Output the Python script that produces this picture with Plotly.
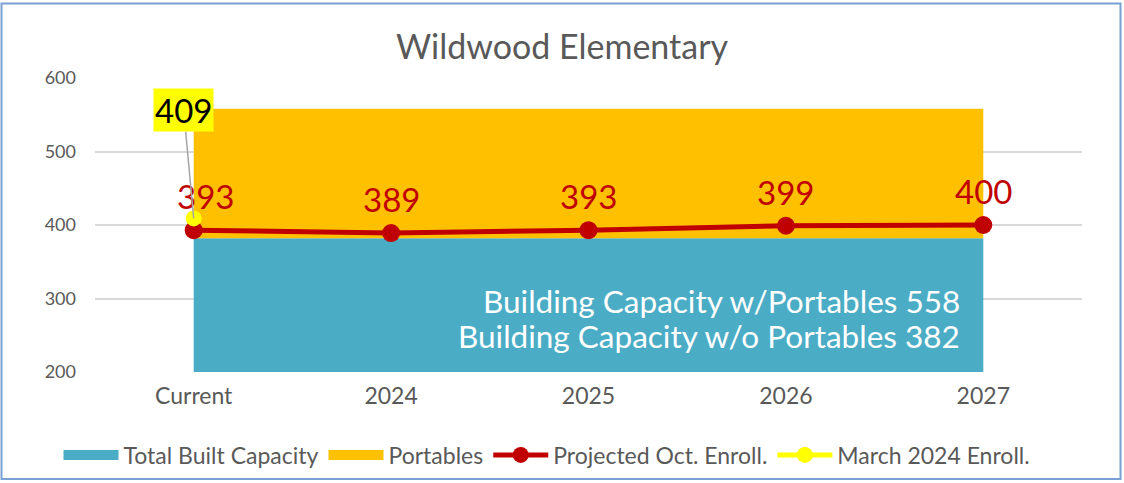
import plotly.graph_objects as go

categories = ["Current", "2024", "2025", "2026", "2027"]
built_capacity = [382, 382, 382, 382, 382]
portables = [176, 176, 176, 176, 176]
projected = [393, 389, 393, 399, 400]
march_enroll = [409]
y_ticks = [200, 300, 400, 500, 600]
capacity_notes = ["Building Capacity w/Portables 558", "Building Capacity w/o Portables 382"]

W, H = 1124, 483
L, R, T, B = 95, 42, 78, 111
pw, ph = W - L - R, H - T - B
xs = list(range(len(categories)))

FONT = "Lato"
GREY = "#595959"
BLUE, ORANGE = "#4BACC6", "#FFC000"

def px_x(p):
    return (p - L) / pw

def px_y(p):
    return (T + ph - p) / ph

fig = go.Figure()
fig.add_trace(go.Scatter(x=xs, y=built_capacity, stackgroup="cap", mode="none",
                         fillcolor=BLUE, name="Total Built Capacity", showlegend=False))
fig.add_trace(go.Scatter(x=xs, y=portables, stackgroup="cap", mode="none",
                         fillcolor=ORANGE, name="Portables", showlegend=False))
# legend entries for the areas
fig.add_trace(go.Scatter(x=[None], y=[None], mode="lines", line=dict(color=BLUE, width=15),
                         name="Total Built Capacity"))
fig.add_trace(go.Scatter(x=[None], y=[None], mode="lines", line=dict(color=ORANGE, width=15),
                         name="Portables"))
fig.add_trace(go.Scatter(x=xs, y=projected, mode="lines+markers",
                         line=dict(color="#C00000", width=5),
                         marker=dict(color="#C00000", size=18),
                         name="Projected Oct. Enroll."))
fig.add_trace(go.Scatter(x=[0], y=march_enroll, mode="lines+markers",
                         line=dict(color="#FFFF00", width=5),
                         marker=dict(color="#FFFF00", size=16),
                         name="March 2024 Enroll."))

# red value labels
for i, v in enumerate(projected):
    fig.add_annotation(x=i, y=v, text=str(v), showarrow=False, yshift=34,
                       xshift=12 if i == 0 else 0,
                       font=dict(family=FONT, size=33, color="#C00000"))

# yellow callout
fig.add_annotation(x=0, y=march_enroll[0], text=str(march_enroll[0]), showarrow=True,
                   arrowhead=0, arrowcolor="#A6A6A6", arrowwidth=1.5,
                   ax=-10, ay=-108, bgcolor="#FFFF00", borderpad=1,
                   font=dict(family=FONT, size=33, color="#000000"))

for note, py in zip(capacity_notes, [301, 336]):
    fig.add_annotation(x=px_x(962), y=px_y(py), xref="paper", yref="paper",
                       xanchor="right", yanchor="middle", showarrow=False,
                       text=note, font=dict(family=FONT, size=31.5, color="#FFFFFF"))

# outer frame
fig.add_shape(type="rect", xref="paper", yref="paper",
              x0=px_x(1.5), x1=px_x(1120.5),
              y0=px_y(479), y1=px_y(3.5),
              line=dict(color="#7BA0D4", width=2), fillcolor="rgba(0,0,0,0)", layer="below")

fig.update_layout(
    width=W, height=H,
    margin=dict(l=L, r=R, t=T, b=B, autoexpand=False),
    paper_bgcolor="white", plot_bgcolor="white",
    title=dict(text="Wildwood Elementary", x=0.5, xref="container",
               xanchor="center", y=1 - 47 / H, yanchor="middle",
               font=dict(family=FONT, size=34, color=GREY)),
    xaxis=dict(range=[-0.5, len(categories) - 0.5], tickvals=xs, ticktext=categories,
               showgrid=False, zeroline=False, showline=False, ticks="",
               tickfont=dict(family=FONT, size=23, color=GREY), ticklabelstandoff=8),
    yaxis=dict(range=[200, 600], tickvals=y_ticks, showgrid=True, gridcolor="#D9D9D9",
               gridwidth=1.5, zeroline=False, showline=False, ticks="",
               tickfont=dict(family=FONT, size=18, color=GREY), ticklabelstandoff=18),
    legend=dict(orientation="h", x=px_x(547), xanchor="center", y=px_y(455),
                yanchor="middle",
                font=dict(family=FONT, size=23, color=GREY), itemwidth=55,
                traceorder="normal", bgcolor="rgba(0,0,0,0)"),
    showlegend=True,
)

fig.write_html("out.html", config={"displayModeBar": False},
               post_script="document.body.style.margin='0';")
